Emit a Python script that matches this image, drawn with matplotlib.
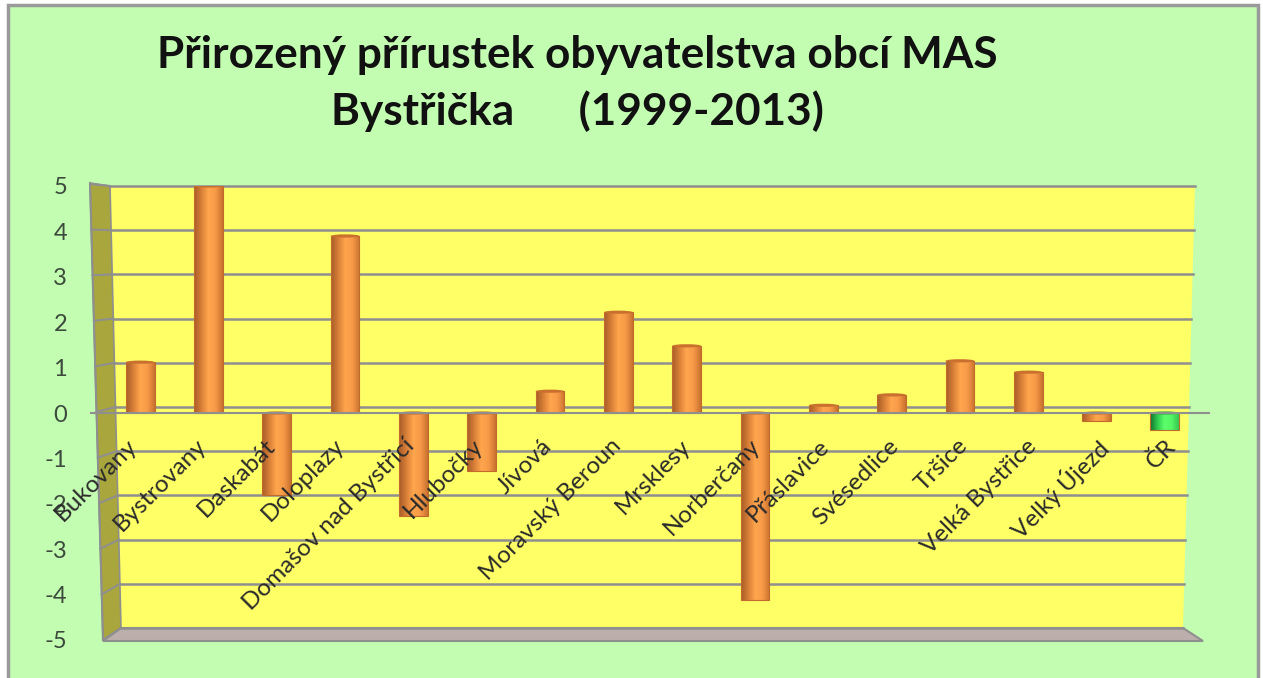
"""
Natural population change of the MAS Bystricka villages, 3D style column chart
"""
import numpy as np
import matplotlib.pyplot as plt
from matplotlib.colors import LinearSegmentedColormap
from matplotlib.patches import Ellipse, Polygon
from matplotlib.transforms import ScaledTranslation

plt.rcParams['font.family'] = ['Lato', 'DejaVu Sans']

title_lines = ['Přirozený přírustek obyvatelstva obcí MAS',
               'Bystřička      (1999-2013)']
villages = ['Bukovany', 'Bystrovany', 'Daskabát', 'Doloplazy',
            'Domašov nad Bystřicí', 'Hlubočky', 'Jívová', 'Moravský Beroun',
            'Mrsklesy', 'Norberčany', 'Přáslavice', 'Svésedlice', 'Tršice',
            'Velká Bystřice', 'Velký Újezd', 'ČR']
values = [1.12, 5.0, -1.8, 3.9, -2.27, -1.28, 0.48, 2.22, 1.48, -4.12, 0.17,
          0.4, 1.15, 0.9, -0.17, -0.37]
y_ticks = [5, 4, 3, 2, 1, 0, -1, -2, -3, -4, -5]
y_labels = ['5', '4', '3', '2', '1', '0', '-1', '-2', '-3', '-4', '-5']

W, H = 1263, 678
GREY = '#8f8f8f'
orange_map = LinearSegmentedColormap.from_list(
    'orange', ['#a85c28', '#d87f38', '#ffa64d', '#f79a48', '#c9722f'])
green_map = LinearSegmentedColormap.from_list(
    'green', ['#14702c', '#2fc94f', '#5cff6a', '#55f565', '#35c850'])


def pixel_axes(left, top, right, bottom):
    return fig.add_axes([left / W, 1 - bottom / H,
                         (right - left) / W, (bottom - top) / H])


fig = plt.figure(figsize=(W / 100, H / 100), dpi=100, facecolor='white')

# frame and 3D walls are drawn in picture pixels
bg = fig.add_axes([0, 0, 1, 1])
bg.set_xlim(0, W)
bg.set_ylim(H, 0)
bg.set_axis_off()
bg.add_patch(Polygon([(8, 5), (1258, 5), (1258, 690), (8, 690)],
                     facecolor='#c3fdb1', edgecolor='#9a9a9a', linewidth=2.5))
# back wall
bg.add_patch(Polygon([(110, 186), (1195, 186), (1183, 628), (121, 628)],
                     facecolor='#ffff66', edgecolor='none'))
# side wall
bg.add_patch(Polygon([(90, 183), (110, 186), (121, 628), (103, 640)],
                     facecolor='#a8a63c', edgecolor=GREY, linewidth=1.2))
# floor
bg.add_patch(Polygon([(121, 628), (1183, 628), (1203, 641), (103, 641)],
                     facecolor='#bcaeab', edgecolor=GREY, linewidth=1.5))

for tick in y_ticks:
    frac = (5 - tick) / 10
    back_y = 186 + frac * 442
    front_y = 184 + frac * 456
    back_left = 110 + frac * 11
    back_right = 1195 - frac * 12
    front_left = 90 + frac * 13
    bg.plot([back_left, back_right], [back_y, back_y], color=GREY, lw=1.8,
            zorder=2)
    bg.plot([front_left, back_left], [front_y, back_y], color=GREY, lw=1.5,
            zorder=2)
bg.plot([90, 103], [183, 640], color=GREY, lw=1.5, zorder=2)

# front plane with the columns
ax = pixel_axes(106, 186, 1199, 640)
ax.patch.set_alpha(0)
bars = ax.bar(range(len(values)), values, width=0.42, color='none',
              edgecolor='#c06a2c', linewidth=0.8, zorder=3)
for i, (bar, value) in enumerate(zip(bars, values)):
    cmap = green_map if villages[i] == 'ČR' else orange_map
    grad = np.linspace(0, 1, 64).reshape(1, -1)
    img = ax.imshow(grad, cmap=cmap, aspect='auto', zorder=2.5,
                    extent=(i - 0.21, i + 0.21, 0, value))
    img.set_clip_path(bar)
    cap_color = '#2fb04a' if villages[i] == 'ČR' else '#c9702e'
    end = value if value > 0 else 0
    ax.add_patch(Ellipse((i, end), 0.42, 0.07, facecolor=cap_color,
                         edgecolor='none', zorder=3.5))

# moving the spine resets the ticks, so it comes before the tick setup
for side in ['top', 'right', 'left']:
    ax.spines[side].set_visible(False)
ax.spines['bottom'].set_position(('data', 0))
ax.spines['bottom'].set_color(GREY)
ax.spines['bottom'].set_linewidth(1.5)
ax.spines['bottom'].set_zorder(4)
ax.spines['bottom'].set_bounds(-0.72, 15.65)
ax.spines['bottom'].set_clip_on(False)

ax.set_xlim(-0.5, 15.5)
ax.set_ylim(-5, 5)
ax.set_yticks(y_ticks)
ax.set_yticklabels(y_labels)
ax.set_xticks(range(len(villages)))
ax.set_xticklabels(villages, rotation=45, ha='right', va='top',
                   rotation_mode='anchor')
ax.tick_params(axis='x', length=0, labelsize=17.5, labelcolor='#2a2a2a', pad=16)
ax.tick_params(axis='y', length=0, labelsize=17, labelcolor='#3c4a3c', pad=28)
ax.xaxis.set_zorder(5)  # names run over the columns

# names end above their column, the original drifts right along the axis
for i, label in enumerate(ax.get_xticklabels()):
    shift = ScaledTranslation((-14 + i * 0.9) / 100, 0, fig.dpi_scale_trans)
    label.set_transform(label.get_transform() + shift)

fig.text(577 / W, 1 - 55 / H, title_lines[0], ha='center', va='center',
         fontsize=31.8, fontweight='bold', color='#111111')
fig.text(577 / W, 1 - 111 / H, title_lines[1], ha='center', va='center',
         fontsize=31.8, fontweight='bold', color='#111111')

fig.savefig('out.png', dpi=100, facecolor=fig.get_facecolor())
